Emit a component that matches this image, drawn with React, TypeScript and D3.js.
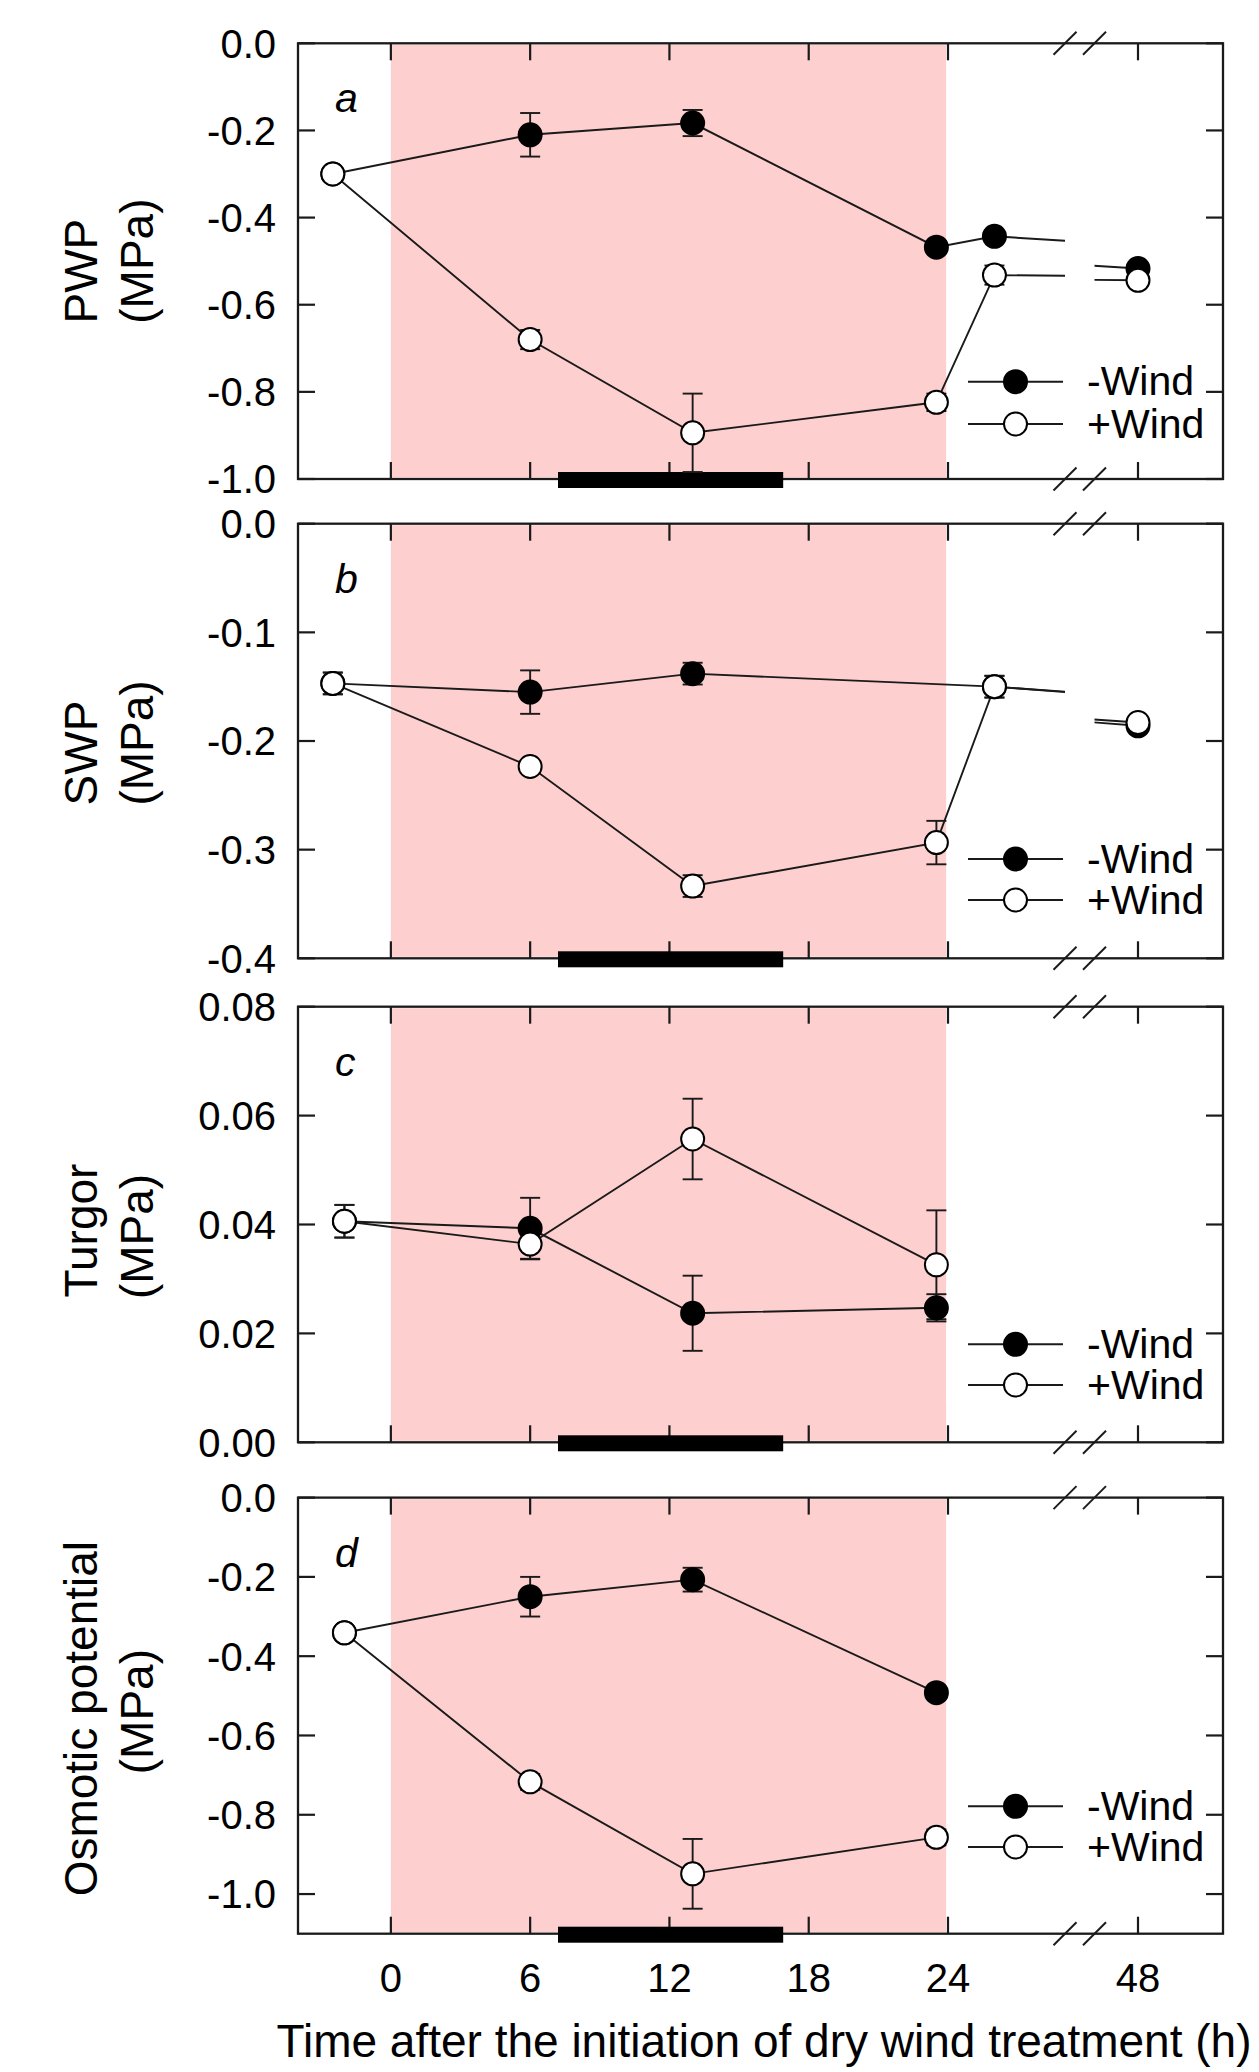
import React, { useEffect, useRef } from 'react';
import * as d3 from 'd3';

// ---- values ----
// a: PWP
const pwpNoWindTime = [-2.5, 6, 13, 23.5, 26, 48];
const pwpNoWindMean = [-0.3, -0.21, -0.183, -0.468, -0.443, -0.517];
const pwpNoWindSe = [0.01, 0.05, 0.03, 0.01, 0.01, 0.01];
const pwpWindTime = [-2.5, 6, 13, 23.5, 26, 48];
const pwpWindMean = [-0.3, -0.68, -0.894, -0.824, -0.532, -0.544];
const pwpWindSe = [0.01, 0.022, 0.09, 0.02, 0.022, 0.01];

// b: SWP
const swpNoWindTime = [-2.5, 6, 13, 26, 48];
const swpNoWindMean = [-0.147, -0.155, -0.138, -0.15, -0.186];
const swpNoWindSe = [0.01, 0.02, 0.01, 0.01, 0.004];
const swpWindTime = [-2.5, 6, 13, 23.5, 26, 48];
const swpWindMean = [-0.147, -0.2235, -0.3335, -0.2935, -0.15, -0.183];
const swpWindSe = [0.01, 0.004, 0.01, 0.02, 0.01, 0.004];

// c: turgor
const turgorNoWindTime = [-2, 6, 13, 23.5];
const turgorNoWindMean = [0.0406, 0.0393, 0.0237, 0.0247];
const turgorNoWindSe = [0.003, 0.0056, 0.0069, 0.0025];
const turgorWindTime = [-2, 6, 13, 23.5];
const turgorWindMean = [0.0406, 0.0364, 0.0557, 0.0326];
const turgorWindSe = [0.003, 0.0028, 0.0074, 0.01];

// d: osmotic potential
const osmNoWindTime = [-2, 6, 13, 23.5];
const osmNoWindMean = [-0.341, -0.25, -0.207, -0.492];
const osmNoWindSe = [0.01, 0.05, 0.03, 0.01];
const osmWindTime = [-2, 6, 13, 23.5];
const osmWindMean = [-0.341, -0.717, -0.949, -0.857];
const osmWindSe = [0.01, 0.02, 0.088, 0.02];

// axes
const hourTicks = [0, 6, 12, 18, 24, 48];
const pwpTicks = [0, -0.2, -0.4, -0.6, -0.8, -1.0];
const swpTicks = [0, -0.1, -0.2, -0.3, -0.4];
const turgorTicks = [0, 0.02, 0.04, 0.06, 0.08];
const osmTicks = [0, -0.2, -0.4, -0.6, -0.8, -1.0];
const legendLabels = ['-Wind', '+Wind'];
const windPeriod = [0, 23.92]; // pink band
const darkPeriod = [7.2, 16.9]; // black bar on the time axis
const xTitle = 'Time after the initiation of dry wind treatment (h)';

const W = 1259;
const H = 2072;
const FONT = '"Liberation Sans", Arial, Helvetica, sans-serif';
const PINK = '#fdcfcf';
const INK = '#1a1a1a';

const plotLeft = 298;
const plotRight = 1223;
const breakL = 1065;
const breakR = 1094.5;

const mk = (time, mean, se, filled) => ({ time, mean, se, filled });

const panels = [
  {
    letter: 'a', title: ['PWP', '(MPa)'], titleShift: [10, 0],
    top: 43.3, bottom: 479, domain: [-1, 0], ticks: pwpTicks, digits: 1,
    legendY: [381.7, 424],
    series: [mk(pwpNoWindTime, pwpNoWindMean, pwpNoWindSe, true), mk(pwpWindTime, pwpWindMean, pwpWindSe, false)],
  },
  {
    letter: 'b', title: ['SWP', '(MPa)'], titleShift: [12, 2],
    top: 523.7, bottom: 958.3, domain: [-0.4, 0], ticks: swpTicks, digits: 1,
    legendY: [859, 900],
    series: [mk(swpNoWindTime, swpNoWindMean, swpNoWindSe, true), mk(swpWindTime, swpWindMean, swpWindSe, false)],
  },
  {
    letter: 'c', title: ['Turgor', '(MPa)'], titleShift: [6, 12],
    top: 1006.7, bottom: 1442.3, domain: [0, 0.08], ticks: turgorTicks, digits: 2,
    legendY: [1344.3, 1385], legendBox: true,
    series: [mk(turgorNoWindTime, turgorNoWindMean, turgorNoWindSe, true), mk(turgorWindTime, turgorWindMean, turgorWindSe, false)],
  },
  {
    letter: 'd', title: ['Osmotic potential', '(MPa)'], titleShift: [3, -4],
    top: 1497.6, bottom: 1933.7, domain: [-1.1, 0], ticks: osmTicks, digits: 1,
    legendY: [1806.3, 1847],
    series: [mk(osmNoWindTime, osmNoWindMean, osmNoWindSe, true), mk(osmWindTime, osmWindMean, osmWindSe, false)],
  },
];

const App = () => {
  const svgRef = useRef<SVGSVGElement>(null);

  useEffect(() => {
    const svg = d3.select(svgRef.current);
    svg.selectAll('*').remove();

    // broken time axis: two linear pieces with the same hour spacing
    const xLeft = d3.scaleLinear().domain([-4, 24]).range([plotLeft, 948]);
    const pxPerHour = (948 - plotLeft) / 28;
    const xRight = d3.scaleLinear().domain([48, 48 + (plotRight - 1138) / pxPerHour]).range([1138, plotRight]);
    const xAt = (t: number) => (t > 30 ? xRight(t) : xLeft(t));

    const defs = svg.append('defs');

    panels.forEach((p, pi) => {
      const y = d3.scaleLinear().domain(p.domain).range([p.bottom, p.top]);
      const g = svg.append('g');

      defs.append('clipPath').attr('id', `clipL${pi}`)
        .append('rect').attr('x', plotLeft).attr('y', p.top - 40)
        .attr('width', breakL - plotLeft).attr('height', p.bottom - p.top + 80);
      defs.append('clipPath').attr('id', `clipR${pi}`)
        .append('rect').attr('x', breakR).attr('y', p.top - 40)
        .attr('width', plotRight - breakR).attr('height', p.bottom - p.top + 80);

      // wind treatment band
      g.append('rect')
        .attr('x', xLeft(windPeriod[0]))
        .attr('y', p.top + 1.5)
        .attr('width', xLeft(windPeriod[1]) - xLeft(windPeriod[0]))
        .attr('height', p.bottom - p.top - 3)
        .attr('fill', PINK);

      if (p.legendBox) {
        g.append('rect').attr('x', 946).attr('y', 1287).attr('width', 268).attr('height', 116).attr('fill', '#fff');
      }

      // frame
      g.append('rect')
        .attr('x', plotLeft).attr('y', p.top)
        .attr('width', plotRight - plotLeft).attr('height', p.bottom - p.top)
        .attr('fill', 'none').attr('stroke', INK).attr('stroke-width', 2.3);

      // y ticks, both sides, inward
      p.ticks.forEach(v => {
        g.append('line').attr('x1', plotLeft).attr('x2', plotLeft + 17)
          .attr('y1', y(v)).attr('y2', y(v)).attr('stroke', INK).attr('stroke-width', 2.2);
        g.append('line').attr('x1', plotRight).attr('x2', plotRight - 17)
          .attr('y1', y(v)).attr('y2', y(v)).attr('stroke', INK).attr('stroke-width', 2.2);
        g.append('text')
          .attr('x', 276).attr('y', y(v)).attr('dy', '0.36em')
          .attr('text-anchor', 'end')
          .style('font-family', FONT).style('font-size', '40px')
          .text(v.toFixed(p.digits));
      });

      // x ticks, top and bottom, inward
      hourTicks.forEach(t => {
        const x = xAt(t);
        g.append('line').attr('x1', x).attr('x2', x).attr('y1', p.top).attr('y2', p.top + 17)
          .attr('stroke', INK).attr('stroke-width', 2.2);
        g.append('line').attr('x1', x).attr('x2', x).attr('y1', p.bottom).attr('y2', p.bottom - 17)
          .attr('stroke', INK).attr('stroke-width', 2.2);
      });

      // axis break marks
      [breakL, breakR].forEach(bx => {
        [p.top, p.bottom].forEach(by => {
          g.append('line')
            .attr('x1', bx - 11.5).attr('y1', by + 11.5)
            .attr('x2', bx + 11.5).attr('y2', by - 11.5)
            .attr('stroke', INK).attr('stroke-width', 2);
        });
      });

      // dark period bar
      g.append('rect')
        .attr('x', xLeft(darkPeriod[0])).attr('y', p.bottom - 7)
        .attr('width', xLeft(darkPeriod[1]) - xLeft(darkPeriod[0])).attr('height', 16)
        .attr('fill', '#000');

      // lines, drawn once per axis piece and clipped
      p.series.forEach(s => {
        const pts: [number, number][] = s.time.map((t, i) => [t, s.mean[i]]);
        [[xLeft, `clipL${pi}`], [xRight, `clipR${pi}`]].forEach(([xs, clip]: any) => {
          if (clip.startsWith('clipR') && !s.time.some(t => t > 30)) return;
          g.append('path')
            .attr('d', d3.line<[number, number]>().x(d => xs(d[0])).y(d => y(d[1]))(pts))
            .attr('clip-path', `url(#${clip})`)
            .attr('fill', 'none').attr('stroke', INK).attr('stroke-width', 1.9);
        });
      });

      // error bars
      p.series.forEach(s => {
        s.time.forEach((t, i) => {
          const x = xAt(t);
          const y1 = y(s.mean[i] - s.se[i]);
          const y2 = y(s.mean[i] + s.se[i]);
          g.append('line').attr('x1', x).attr('x2', x).attr('y1', y1).attr('y2', y2)
            .attr('stroke', INK).attr('stroke-width', 1.9);
          [y1, y2].forEach(yy => {
            g.append('line').attr('x1', x - 10).attr('x2', x + 10).attr('y1', yy).attr('y2', yy)
              .attr('stroke', INK).attr('stroke-width', 1.9);
          });
        });
      });

      // markers: -Wind first, +Wind on top
      p.series.forEach(s => {
        s.time.forEach((t, i) => {
          g.append('circle')
            .attr('cx', xAt(t)).attr('cy', y(s.mean[i])).attr('r', 11.5)
            .attr('fill', s.filled ? '#000' : '#fff')
            .attr('stroke', '#000').attr('stroke-width', 2);
        });
      });

      // panel letter
      g.append('text')
        .attr('x', 335).attr('y', p.top + 69)
        .style('font-family', FONT).style('font-size', '41px').style('font-style', 'italic')
        .text(p.letter);

      // y title, two lines
      const cy = (p.top + p.bottom) / 2;
      [97, 153].forEach((bx, li) => {
        g.append('text')
          .attr('transform', `translate(${bx},${cy + p.titleShift[li]}) rotate(-90)`)
          .attr('text-anchor', 'middle')
          .style('font-family', FONT).style('font-size', '46px')
          .text(p.title[li]);
      });

      // legend
      p.series.forEach((s, si) => {
        const ly = p.legendY[si];
        g.append('line').attr('x1', 968).attr('x2', 1063).attr('y1', ly).attr('y2', ly)
          .attr('stroke', INK).attr('stroke-width', 1.9);
        g.append('circle').attr('cx', 1015.5).attr('cy', ly).attr('r', 11.5)
          .attr('fill', s.filled ? '#000' : '#fff').attr('stroke', '#000').attr('stroke-width', 2);
        g.append('text')
          .attr('x', 1087).attr('y', ly).attr('dy', '0.33em')
          .style('font-family', FONT).style('font-size', '41px')
          .text(legendLabels[si]);
      });

      // time labels on the last panel only
      if (pi === panels.length - 1) {
        hourTicks.forEach(t => {
          g.append('text')
            .attr('x', xAt(t)).attr('y', p.bottom + 58)
            .attr('text-anchor', 'middle')
            .style('font-family', FONT).style('font-size', '40px')
            .text(String(t));
        });
        g.append('text')
          .attr('x', 764).attr('y', 2056.5)
          .attr('text-anchor', 'middle')
          .style('font-family', FONT).style('font-size', '46px')
          .text(xTitle);
      }
    });
  }, []);

  return (
    <svg
      ref={svgRef}
      width={W}
      height={H}
      style={{ position: 'absolute', left: 0, top: 0, background: '#fff' }}
    />
  );
};

export default App;
